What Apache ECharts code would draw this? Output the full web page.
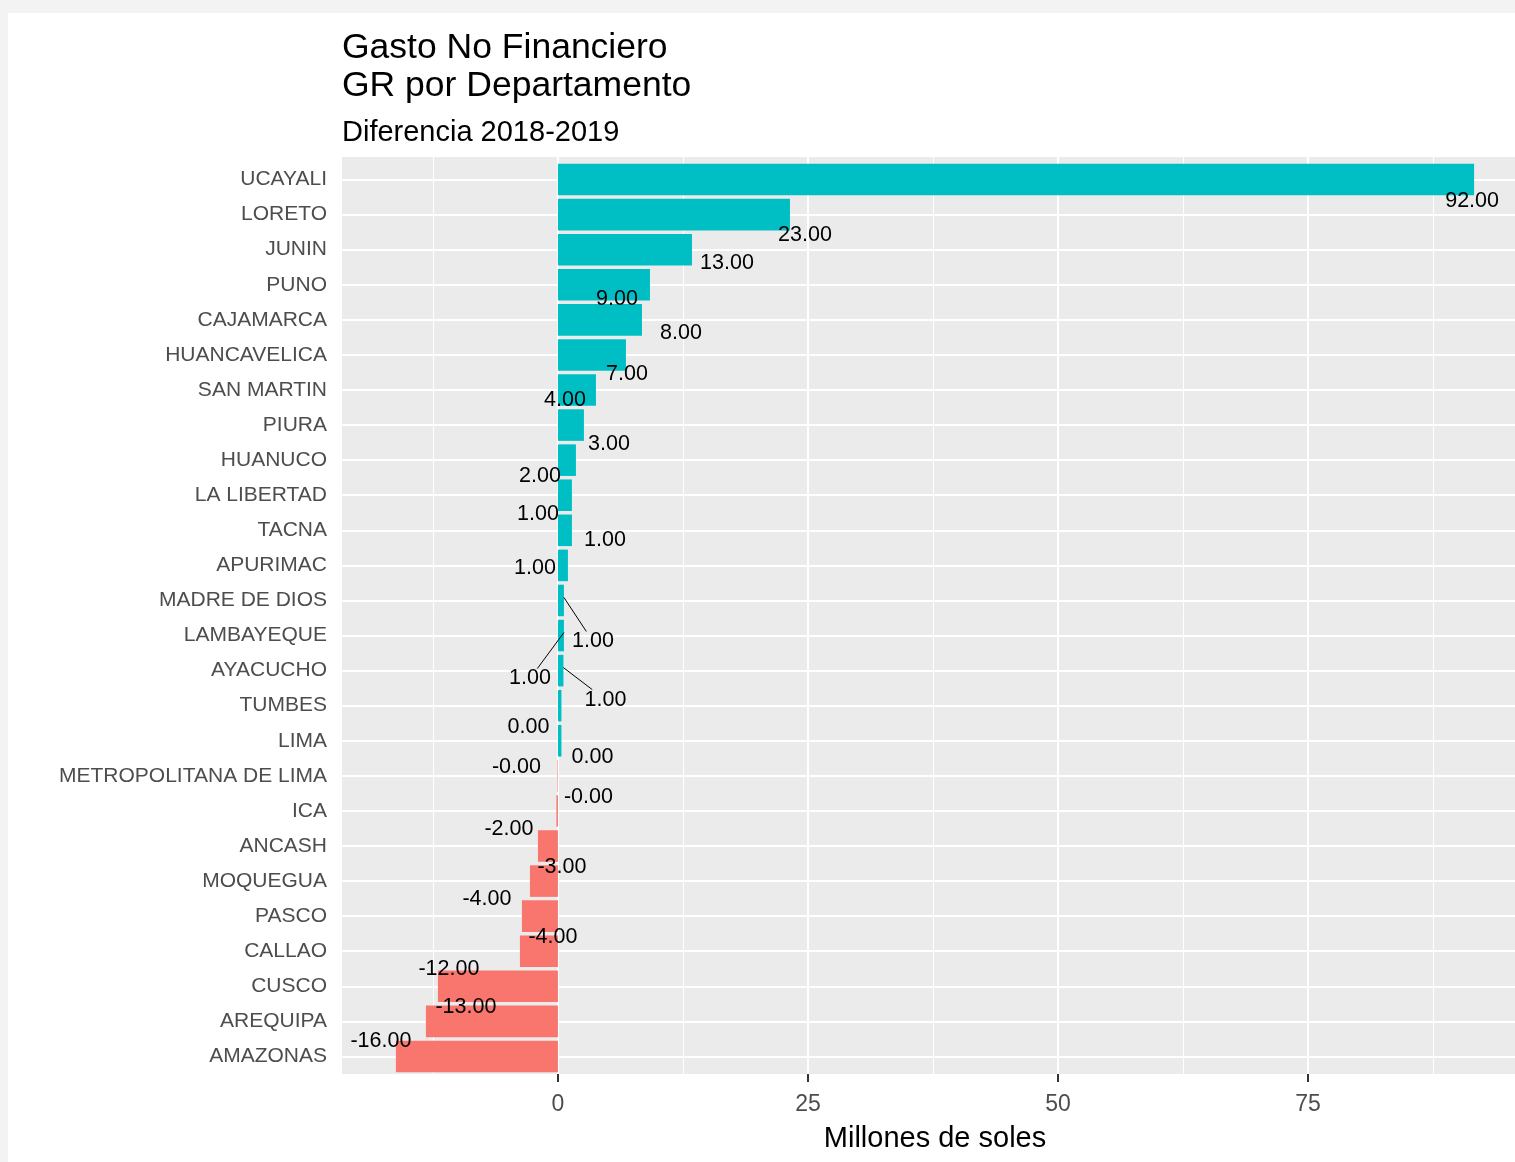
<!DOCTYPE html>
<html><head><meta charset="utf-8">
<script src="https://cdn.jsdelivr.net/npm/echarts@6/dist/echarts.min.js"></script>
<style>
html,body{margin:0;padding:0;background:#f3f3f3;}
#frame{position:absolute;left:8px;top:13px;width:1507px;height:1149px;background:#ffffff;}
#chart{position:absolute;left:0;top:0;width:1515px;height:1162px;}
</style></head><body>
<div id="frame"></div><div id="chart"></div>
<script>
// Categories (top to bottom as drawn)
const departamentos = ['UCAYALI','LORETO','JUNIN','PUNO','CAJAMARCA','HUANCAVELICA','SAN MARTIN','PIURA','HUANUCO','LA LIBERTAD','TACNA','APURIMAC','MADRE DE DIOS','LAMBAYEQUE','AYACUCHO','TUMBES','LIMA','METROPOLITANA DE LIMA','ICA','ANCASH','MOQUEGUA','PASCO','CALLAO','CUSCO','AREQUIPA','AMAZONAS'];
// Differences 2018-2019 (millones de soles)
const diferencia = [91.6, 23.2, 13.4, 9.2, 8.4, 6.8, 3.8, 2.6, 1.8, 1.4, 1.4, 1.0, 0.6, 0.6, 0.55, 0.35, 0.35, -0.05, -0.15, -2.0, -2.8, -3.6, -3.8, -12.0, -13.2, -16.2];
// Axis ticks
const xMajorTicks = [0, 25, 50, 75];
const xMinorTicks = [-12.5, 12.5, 37.5, 62.5, 87.5];
// Repelled label offsets (px) from bar end / row centre, and labels with leader lines
const labelNudge = [[-2,22],[15,20],[35,13],[-33,14],[39,13],[1,19],[-31,10],[25,19],[-36,16],[-34,19],[33,10],[-33,3],[29,41],[-34,43],[42,29],[-33,21],[31,16],[-41,-9],[32,-14],[-29,-17],[32,-14],[-35,-17],[33,-14],[11,-17],[40,-14],[-15,-15]];
const leaderLine = ['MADRE DE DIOS','LAMBAYEQUE','AYACUCHO'];

const POS = '#00BFC4', NEG = '#F8766D';
const FONT = '"Liberation Sans", Arial, sans-serif';
const dmin = Math.min(...diferencia), dmax = Math.max(...diferencia);
const span = dmax - dmin;
const xmin = dmin - 0.05 * span, xmax = dmax + 0.05 * span;

function fmt(v){ return (v < 0 ? '-' : '') + Math.abs(Math.round(v)).toFixed(2); }

const chart = echarts.init(document.getElementById('chart'), null, {renderer:'canvas'});
const option = {
  backgroundColor: 'transparent',
  animation: false,
  title: {
    left: 342, top: 29, padding: 0, itemGap: 13,
    text: 'Gasto No Financiero\nGR por Departamento',
    subtext: 'Diferencia 2018-2019',
    textStyle: {fontFamily: FONT, fontSize: 35.5, lineHeight: 38, color: '#000', fontWeight: 'normal'},
    subtextStyle: {fontFamily: FONT, fontSize: 29, color: '#000'}
  },
  grid: [
    {left: 342, top: 162, width: 1186, height: 912, show: false, borderWidth: 0, outerBoundsMode: 'none', containLabel: false},
    {left: 342, top: 157, width: 1186, height: 917, show: true, backgroundColor: '#EBEBEB', borderWidth: 0, outerBoundsMode: 'none', containLabel: false, z: -1}
  ],
  xAxis: [
    {
      type: 'value', min: xmin, max: xmax, gridIndex: 0,
      axisLine: {show: false},
      axisTick: {show: true, customValues: xMajorTicks, length: 8, lineStyle: {color: '#333', width: 2}},
      axisLabel: {customValues: xMajorTicks, fontFamily: FONT, fontSize: 23, color: '#4D4D4D', margin: 19},
      splitLine: {show: false},
      name: 'Millones de soles', nameLocation: 'middle', nameGap: 50,
      nameTextStyle: {fontFamily: FONT, fontSize: 29, color: '#000'}
    },
    {type: 'value', min: xmin, max: xmax, gridIndex: 1, show: false, splitLine: {show: false}}
  ],
  yAxis: [
    {
      type: 'category', data: departamentos, inverse: true, gridIndex: 0,
      axisLine: {show: false},
      axisTick: {show: true, alignWithLabel: true, length: 8, lineStyle: {color: '#333', width: 2}},
      axisLabel: {interval: 0, fontFamily: FONT, fontSize: 21, color: '#4D4D4D', margin: 15},
      splitLine: {show: false}
    },
    {type: 'value', min: 0, max: 1, gridIndex: 1, show: false, splitLine: {show: false}}
  ],
  series: [
    {
      type: 'line', data: [], z: 1, silent: true, xAxisIndex: 1, yAxisIndex: 1,
      markLine: {
        silent: true, symbol: ['none','none'], z: 1, animation: false,
        label: {show: false}, emphasis: {disabled: true},
        lineStyle: {color: '#FFFFFF', type: 'solid'},
        data: [
          ...xMinorTicks.map(v => ({xAxis: v, lineStyle: {width: 1, color: '#FFFFFF', type:'solid'}})),
          ...xMajorTicks.map(v => ({xAxis: v, lineStyle: {width: 2, color: '#FFFFFF', type:'solid'}}))
        ]
      }
    },
    {
      type: 'line', data: [], z: 1, silent: true, xAxisIndex: 0, yAxisIndex: 0,
      markLine: {
        silent: true, symbol: ['none','none'], z: 1, animation: false,
        label: {show: false}, emphasis: {disabled: true},
        lineStyle: {color: '#FFFFFF', type: 'solid'},
        data: departamentos.map(d => ({yAxis: d, lineStyle: {width: 2, color: '#FFFFFF', type:'solid'}}))
      }
    },
    {
      type: 'bar', z: 2, barWidth: '90%', xAxisIndex: 0, yAxisIndex: 0,
      data: departamentos.map((d, i) => ({
        value: diferencia[i],
        itemStyle: {color: diferencia[i] >= 0 ? POS : NEG}
      })),
      label: {show: true, position: 'inside', formatter: p => fmt(p.value), color: '#000', fontFamily: FONT, fontSize: 21.5},
      emphasis: {disabled: true},
      labelLayout: function(params){
        const i = params.dataIndex;
        const v = diferencia[i];
        const r = params.rect;
        const end = v >= 0 ? r.x + r.width : r.x;
        const cy = r.y + r.height / 2;
        return {x: end + labelNudge[i][0], y: cy + labelNudge[i][1], align: 'center', verticalAlign: 'middle'};
      }
    },
    {
      // ggrepel-style leader segments from the bar end to the moved label
      type: 'custom', z: 3, silent: true, xAxisIndex: 0, yAxisIndex: 0,
      encode: {x: 0, y: 1},
      data: departamentos.map((d, i) => [diferencia[i], i]),
      renderItem: function(params, api){
        const i = params.dataIndex;
        if (!leaderLine.includes(departamentos[i])) return null;
        const p = api.coord([api.value(0), api.value(1)]);
        const sx = p[0], sy = p[1] - 3;
        const lx = p[0] + labelNudge[i][0], ly = p[1] + labelNudge[i][1];
        const ddx = lx - sx, ddy = ly - sy;
        const t = Math.min(23 / Math.abs(ddx || 1e-6), 10 / Math.abs(ddy || 1e-6), 1);
        return {
          type: 'line',
          shape: {x1: sx, y1: sy, x2: lx - t * ddx, y2: ly - t * ddy},
          style: {stroke: '#000', lineWidth: 1}
        };
      }
    }
  ]
};
chart.setOption(option);
</script>
</body></html>
